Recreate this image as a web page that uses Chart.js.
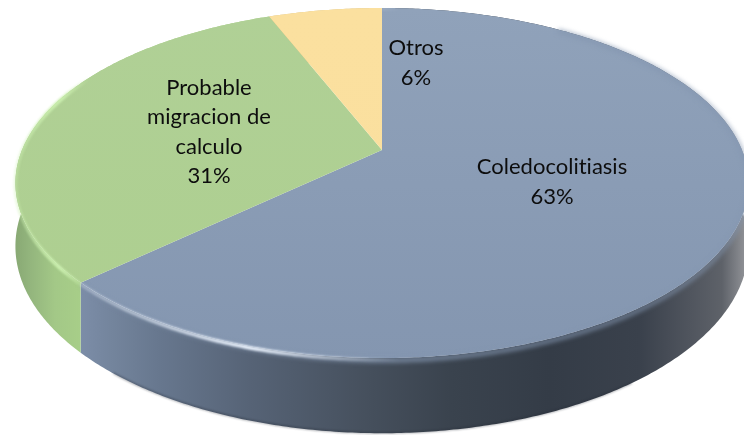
<!DOCTYPE html>
<html>
<head>
<meta charset="utf-8">
<style>
  html, body { margin: 0; padding: 0; background: #fff; }
  canvas { display: block; }
</style>
<script src="https://cdn.jsdelivr.net/npm/chart.js@4"></script>
</head>
<body>
<canvas id="pie" width="744" height="435"></canvas>
<script>
const categories = ['Coledocolitiasis', 'Probable migracion de calculo', 'Otros'];
const shares = [63, 31, 6];

// Colours of the upper face of each slice (far edge to near edge).
const faceColours = [['#90a2ba', '#8496b0'], ['#b0d096', '#adcf8f'], ['#fbe09f', '#fadf9e']];
// Colours of the rim, as [canvas x, colour] stops.
const rimStops = [
  [[80, '#7c8da8'], [110, '#74859d'], [160, '#67778e'], [250, '#566376'], [372, '#454f5c'],
   [450, '#3a434e'], [550, '#343c47'], [640, '#3a414c'], [690, '#50555e'], [722, '#5e6269'], [744, '#8d8f94']],
  [[12, '#86a672'], [30, '#93b57d'], [55, '#a3c887'], [90, '#a9d089']],
  [[0, '#d9c088'], [744, '#d9c088']]
];
// Light catching the bevel of the upper edge.
const glints = [
  { slice: 0, colour: 'rgba(236,244,255,', x0: 85, x1: 400, peak: 250 },
  { slice: 1, colour: 'rgba(204,240,176,', x0: 10, x1: 90, peak: 60 }
];
// Where each label block is centred on the canvas.
const labelCentres = [[552, 182], [209, 132], [416, 63]];

// Perspective of the disc: unit-circle offsets become canvas positions.
const view = { cx: 382, cy: 150, a: 360, b: 168.8, tilt: 0.1886, depth: 61 };

function project(angle, z) {
  const u = Math.cos(angle), v = Math.sin(angle);
  const w = 1 - view.tilt * v;
  return [view.cx + view.a * u / w, view.cy + (view.b * v + view.depth * z) / w];
}

function trace(ctx, from, to, z, first) {
  const steps = Math.max(8, Math.ceil(Math.abs(to - from) / 0.01));
  for (let i = 0; i <= steps; i++) {
    const p = project(from + (to - from) * i / steps, z);
    if (i === 0 && first) ctx.moveTo(p[0], p[1]); else ctx.lineTo(p[0], p[1]);
  }
}

function horizontalGradient(ctx, stops) {
  const g = ctx.createLinearGradient(0, 0, 744, 0);
  stops.forEach(([x, c]) => g.addColorStop(Math.min(1, Math.max(0, x / 744)), c));
  return g;
}

function wrap(ctx, text, maxWidth) {
  const lines = [];
  let line = '';
  text.split(' ').forEach(word => {
    const next = line ? line + ' ' + word : word;
    if (ctx.measureText(next).width > maxWidth && line) { lines.push(line); line = word; } else line = next;
  });
  lines.push(line);
  return lines;
}

const perspectivePie = {
  id: 'perspectivePie',
  beforeDatasetsDraw(chart) {
    const ctx = chart.ctx;
    const arcs = chart.getDatasetMeta(0).data;

    // Rim first, so that the upper face overlaps it.
    arcs.forEach((arc, i) => {
      ctx.save();
      ctx.beginPath();
      trace(ctx, arc.startAngle, arc.endAngle, 0, true);
      trace(ctx, arc.endAngle, arc.startAngle, 1, false);
      ctx.closePath();
      ctx.filter = 'blur(0.6px)';
      ctx.fillStyle = horizontalGradient(ctx, rimStops[i]);
      ctx.fill();
      ctx.restore();
    });

    // Thin dark line along the underside of the rim.
    ctx.save();
    ctx.beginPath();
    trace(ctx, Math.PI * 0.72, Math.PI * 0.3, 0.995, true);
    ctx.filter = 'blur(0.8px)';
    ctx.strokeStyle = 'rgba(38,44,54,0.55)';
    ctx.lineWidth = 1.4;
    ctx.stroke();
    ctx.restore();

    // Upper faces.
    arcs.forEach((arc, i) => {
      ctx.save();
      const g = ctx.createLinearGradient(0, 8, 0, 360);
      g.addColorStop(0, faceColours[i][0]);
      g.addColorStop(1, faceColours[i][1]);
      ctx.beginPath();
      ctx.moveTo(view.cx, view.cy);
      trace(ctx, arc.startAngle, arc.endAngle, 0, false);
      ctx.closePath();
      ctx.filter = 'blur(0.7px)';
      ctx.fillStyle = g;
      ctx.fill();
      ctx.restore();
    });

    // Soft shoulder between the blue face and its dark rim.
    ctx.save();
    ctx.beginPath();
    trace(ctx, arcs[0].startAngle + 0.6, arcs[0].endAngle, 0.03, true);
    ctx.filter = 'blur(2px)';
    const shoulder = ctx.createLinearGradient(0, 0, 744, 0);
    shoulder.addColorStop(0.1, 'rgba(132,150,176,0.2)');
    shoulder.addColorStop(0.5, 'rgba(132,150,176,0.75)');
    shoulder.addColorStop(1, 'rgba(132,150,176,0.55)');
    ctx.strokeStyle = shoulder;
    ctx.lineWidth = 5;
    ctx.stroke();
    ctx.restore();

    // Bevel highlights.
    glints.forEach(gl => {
      const arc = arcs[gl.slice];
      ctx.save();
      ctx.beginPath();
      trace(ctx, arc.startAngle, arc.endAngle, 0.02, true);
      const grad = ctx.createLinearGradient(gl.x0, 0, gl.x1, 0);
      const peak = (gl.peak - gl.x0) / (gl.x1 - gl.x0);
      grad.addColorStop(0, gl.colour + '0.3)');
      grad.addColorStop(peak, gl.colour + '1)');
      grad.addColorStop(1, gl.colour + '0)');
      ctx.filter = 'blur(0.9px)';
      ctx.strokeStyle = grad;
      ctx.lineWidth = 3.6;
      ctx.stroke();
      ctx.restore();
    });

    // Labels: name, wrapped, then the share.
    ctx.save();
    ctx.font = '400 22px Lato, "Open Sans", sans-serif';
    ctx.letterSpacing = '0.01px';
    ctx.textAlign = 'center';
    ctx.textBaseline = 'middle';
    ctx.fillStyle = '#0d0d0d';
    categories.forEach((name, i) => {
      const lines = wrap(ctx, name, 145).concat(shares[i] + '%');
      const [x, y] = labelCentres[i];
      lines.forEach((line, n) => {
        ctx.fillText(line, x, y + (n - (lines.length - 1) / 2) * 29.3);
      });
    });
    ctx.restore();
    return false;
  }
};

new Chart(document.getElementById('pie'), {
  type: 'pie',
  data: {
    labels: categories,
    datasets: [{ data: shares, backgroundColor: ['#8a9bb4', '#aecf92', '#fadf9e'], borderWidth: 0 }]
  },
  options: {
    responsive: false,
    animation: false,
    plugins: { legend: { display: false }, tooltip: { enabled: false } }
  },
  plugins: [perspectivePie]
});
</script>
</body>
</html>
